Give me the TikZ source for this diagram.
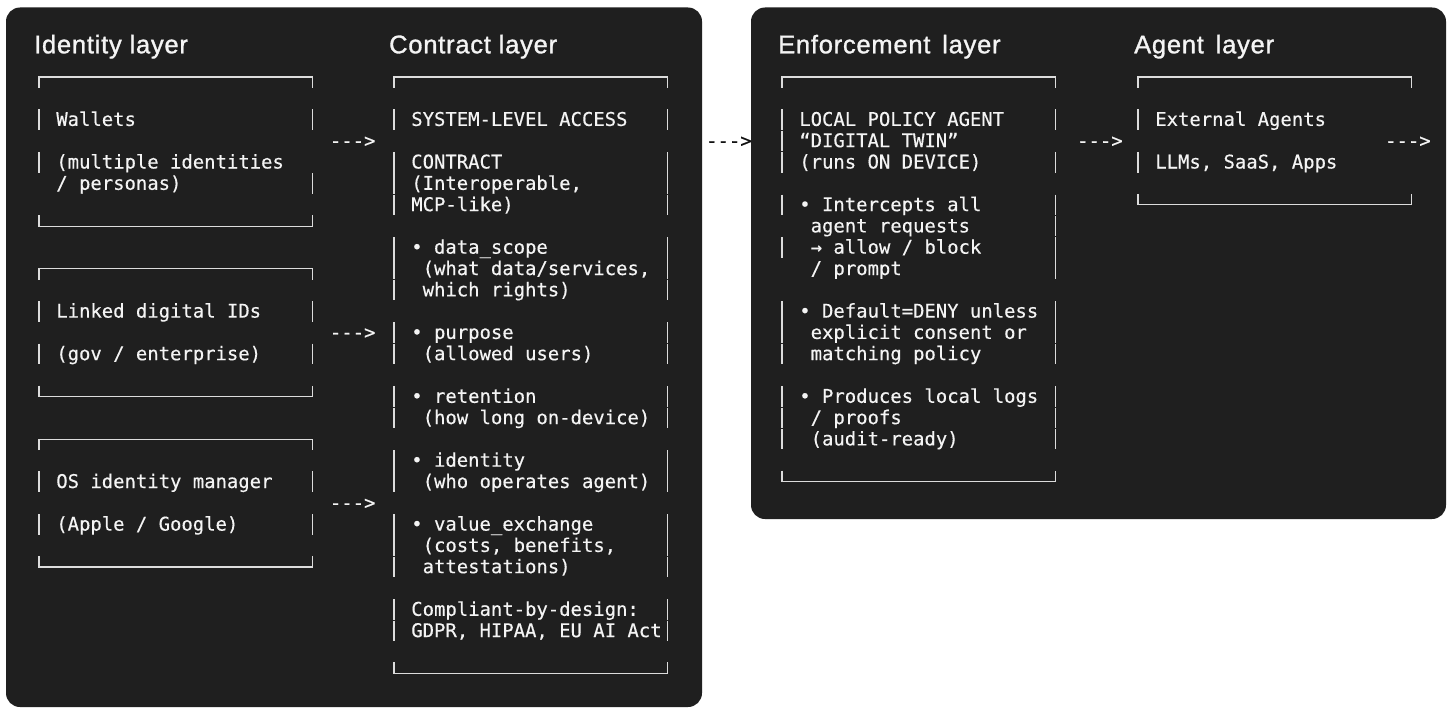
\documentclass[tikz,border=0pt]{standalone}
\usepackage{fontspec}
\setmainfont{Liberation Sans}
\setmonofont[FakeBold=0.35]{DejaVu Sans Mono}
\newfontfamily\titlefont[LetterSpace=3,FakeBold=1.2]{Liberation Sans}
\definecolor{panel}{HTML}{1F1F1F}
\definecolor{ink}{HTML}{F4F4F4}
\definecolor{rulec}{HTML}{DCDCDC}
\definecolor{darkink}{HTML}{111111}
\tikzset{
  panelbox/.style={fill=panel, draw=none, rounded corners=14pt},
  title/.style={font=\titlefont\fontsize{25.5}{30}\selectfont, text=ink, inner sep=0pt, anchor=base west},
  mono/.style={font=\ttfamily\fontsize{18.9}{21.3}\selectfont, text=ink, inner sep=0pt, anchor=base west},
  hline/.style={draw=rulec, line width=1.2pt},
  vline/.style={draw=rulec, line width=1.2pt},
}
% #1 name, #2 col0 centre x, #3 line, #4 column, #5 text
\newcommand{\mtext}[5]{\node[mono] (#1) at ({#2-5.7+#4*11.4},{83.3+21.3*#3}) {#5};}
% #1 x, #2 line
\newcommand{\abar}[2]{\draw[vline] ({#1},{77+21.3*#2-10.3}) -- ({#1},{77+21.3*#2+10.3});}
% #1 col0 centre x, #2 top line, #3 bottom line
\newcommand{\aframe}[3]{%
  \draw[hline] ({#1},{77+21.3*#2+11}) -- ({#1},{77+21.3*#2}) -- ({#1+273.6},{77+21.3*#2}) -- ({#1+273.6},{77+21.3*#2+11});
  \draw[hline] ({#1},{77+21.3*#3-11}) -- ({#1},{77+21.3*#3}) -- ({#1+273.6},{77+21.3*#3}) -- ({#1+273.6},{77+21.3*#3-11});}
% both bars
\newcommand{\bbar}[2]{\abar{#1}{#2}\abar{#1+273.6}{#2}}
\begin{document}
\begin{tikzpicture}[x=1pt,y=-1pt]
\useasboundingbox (0,0) rectangle (1449,709);
\fill[white] (0,0) rectangle (1449,709);
\path[panelbox] (6,7.5) rectangle (702,707);
\path[panelbox] (751,7.5) rectangle (1446,519);

% titles
\node[title] (tid) at (34,53.3) {Identity layer};
\node[title] (tco) at (389,53.3) {Contract layer};
\node[title] (ten) at (778,53.3) {Enforcement\hspace{4pt} layer};
\node[title] (tag) at (1134,53.3) {Agent\hspace{4pt} layer};

% ---------------- Identity layer
\def\cx{39}
\aframe{\cx}{0}{7}
\mtext{w1}{\cx}{2}{2}{Wallets}
\mtext{w2}{\cx}{4}{2}{(multiple identities}
\mtext{w3}{\cx}{5}{2}{/ personas)}
\bbar{\cx}{2}
\abar{\cx}{4}
\abar{\cx+273.6}{5}

\aframe{\cx}{9}{15}
\mtext{l1}{\cx}{11}{2}{Linked digital IDs}
\mtext{l2}{\cx}{13}{2}{(gov / enterprise)}
\bbar{\cx}{11}
\bbar{\cx}{13}

\aframe{\cx}{17}{23}
\mtext{o1}{\cx}{19}{2}{OS identity manager}
\mtext{o2}{\cx}{21}{2}{(Apple / Google)}
\bbar{\cx}{19}
\bbar{\cx}{21}

\mtext{ar1}{\cx}{3}{26}{--->}
\mtext{ar2}{\cx}{12}{26}{--->}
\mtext{ar3}{\cx}{20}{26}{--->}

% ---------------- Contract layer
\def\cx{394}
\aframe{\cx}{0}{28}
\mtext{c1}{\cx}{2}{2}{SYSTEM-LEVEL ACCESS}
\mtext{c2}{\cx}{4}{2}{CONTRACT}
\mtext{c3}{\cx}{5}{2}{(Interoperable,}
\mtext{c4}{\cx}{6}{2}{MCP-like)}
\mtext{c5}{\cx}{8}{2}{• data\_scope}
\mtext{c6}{\cx}{9}{3}{(what data/services,}
\mtext{c7}{\cx}{10}{3}{which rights)}
\mtext{c8}{\cx}{12}{2}{• purpose}
\mtext{c9}{\cx}{13}{3}{(allowed users)}
\mtext{c10}{\cx}{15}{2}{• retention}
\mtext{c11}{\cx}{16}{3}{(how long on-device)}
\mtext{c12}{\cx}{18}{2}{• identity}
\mtext{c13}{\cx}{19}{3}{(who operates agent)}
\mtext{c14}{\cx}{21}{2}{• value\_exchange}
\mtext{c15}{\cx}{22}{3}{(costs, benefits,}
\mtext{c16}{\cx}{23}{3}{attestations)}
\mtext{c17}{\cx}{25}{2}{Compliant-by-design:}
\mtext{c18}{\cx}{26}{2}{GDPR, HIPAA, EU AI Act}
\foreach \k in {2,4,5,6,8,9,10,12,13,15,16,18,19,21,22,23,25,26} {\bbar{\cx}{\k}}
\node[mono, text=darkink] (ar4) at (706,{83.3+21.3*3}) {--->};

% ---------------- Enforcement layer
\def\cx{782}
\aframe{\cx}{0}{19}
\mtext{e1}{\cx}{2}{2}{LOCAL POLICY AGENT}
\mtext{e2}{\cx}{3}{2}{“DIGITAL TWIN”}
\mtext{e3}{\cx}{4}{2}{(runs ON DEVICE)}
\mtext{e4}{\cx}{6}{2}{• Intercepts all}
\mtext{e5}{\cx}{7}{3}{agent requests}
\mtext{e6}{\cx}{8}{3}{→ allow / block}
\mtext{e7}{\cx}{9}{3}{/ prompt}
\mtext{e8}{\cx}{11}{2}{• Default=DENY unless}
\mtext{e9}{\cx}{12}{3}{explicit consent or}
\mtext{e10}{\cx}{13}{3}{matching policy}
\mtext{e11}{\cx}{15}{2}{• Produces local logs}
\mtext{e12}{\cx}{16}{3}{/ proofs}
\mtext{e13}{\cx}{17}{3}{(audit-ready)}
\foreach \k in {2,4,6,8,11,12,13,15,16,17} {\bbar{\cx}{\k}}
\abar{\cx}{3}
\abar{\cx+273.6}{7}
\abar{\cx+273.6}{9}
\node[mono] (ar5) at (1077,{83.3+21.3*3}) {--->};

% ---------------- Agent layer
\def\cx{1138}
\aframe{\cx}{0}{6}
\mtext{g1}{\cx}{2}{2}{External Agents}
\mtext{g2}{\cx}{4}{2}{LLMs, SaaS, Apps}
\abar{\cx}{2}
\abar{\cx}{4}
\node[mono] (ar6) at (1385,{83.3+21.3*3}) {--->};
\end{tikzpicture}
\end{document}
